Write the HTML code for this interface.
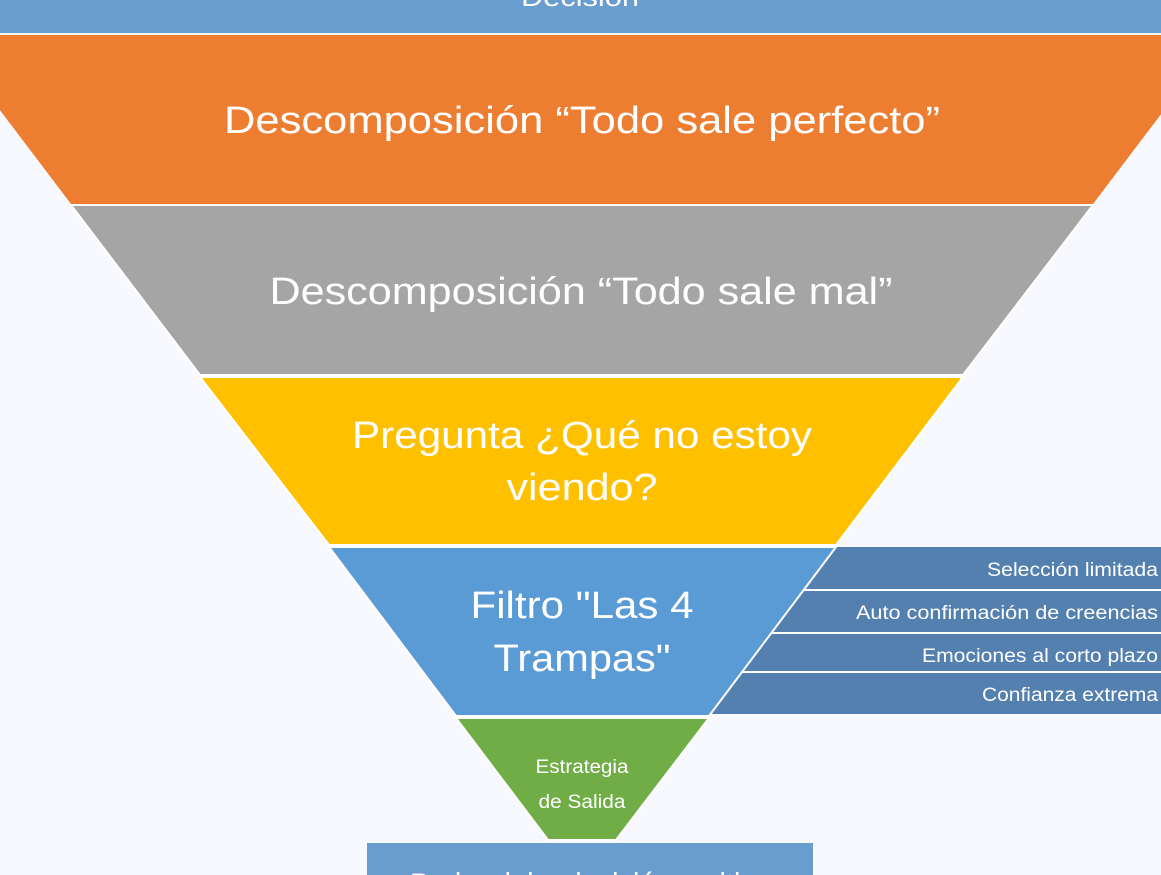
<!DOCTYPE html>
<html><head><meta charset="utf-8"><style>
html,body{margin:0;padding:0;background:#f8f9fe;}
svg{display:block;}
text{font-family:"Liberation Sans",sans-serif;fill:#fff;}
</style></head><body>
<svg width="1161" height="875" viewBox="0 0 1161 875" xmlns="http://www.w3.org/2000/svg">
<rect width="1161" height="875" fill="#f8f9fe"/>
<!-- top bar -->
<rect x="0" y="0" width="1161" height="33" fill="#699dd0"/>
<text x="580" y="6" font-size="26" text-anchor="middle" textLength="118" lengthAdjust="spacingAndGlyphs">Decisión</text>
<!-- side bars -->
<rect x="700" y="547" width="461" height="42" fill="#5480b0"/>
<rect x="700" y="591" width="461" height="41" fill="#5480b0"/>
<rect x="700" y="634" width="461" height="37" fill="#5480b0"/>
<rect x="700" y="673" width="461" height="41" fill="#5480b0"/>
<line x1="700" y1="590" x2="1161" y2="590" stroke="#fff" stroke-width="2"/>
<line x1="700" y1="633" x2="1161" y2="633" stroke="#fff" stroke-width="2"/>
<line x1="700" y1="672" x2="1161" y2="672" stroke="#fff" stroke-width="2"/>
<!-- funnel -->
<polygon points="-57,35 1221,35 1093,204 71,204" fill="#ed7e31"/>
<polygon points="71,205 1093,205 963,375 200,375" fill="#a5a5a5" stroke="#fff" stroke-width="2"/>
<polygon points="200,377 963,377 836,545 329,545" fill="#ffc000" stroke="#fff" stroke-width="2"/>
<polygon points="329,547 836,547 709,716 456,716" fill="#5b9bd5" stroke="#fff" stroke-width="2"/>
<polygon points="456,718 709,718 616,840 548,840" fill="#71ad47" stroke="#fff" stroke-width="2"/>
<!-- bottom box -->
<rect x="367" y="843" width="446" height="40" fill="#699dd0"/>
<text x="580" y="897" font-size="34" text-anchor="middle" textLength="340" lengthAdjust="spacingAndGlyphs">Poder del a decisión emitir</text>
<!-- labels -->
<text x="582" y="133" font-size="38" text-anchor="middle" textLength="716" lengthAdjust="spacingAndGlyphs">Descomposición “Todo sale perfecto”</text>
<text x="581" y="304" font-size="38" text-anchor="middle" textLength="623" lengthAdjust="spacingAndGlyphs">Descomposición “Todo sale mal”</text>
<text x="582" y="448" font-size="38" text-anchor="middle" textLength="460" lengthAdjust="spacingAndGlyphs">Pregunta ¿Qué no estoy</text>
<text x="582" y="500" font-size="38" text-anchor="middle" textLength="151" lengthAdjust="spacingAndGlyphs">viendo?</text>
<text x="582" y="618" font-size="38" text-anchor="middle" textLength="223" lengthAdjust="spacingAndGlyphs">Filtro "Las 4</text>
<text x="582" y="671" font-size="38" text-anchor="middle" textLength="177" lengthAdjust="spacingAndGlyphs">Trampas"</text>
<text x="582" y="773" font-size="19" text-anchor="middle" textLength="93" lengthAdjust="spacingAndGlyphs">Estrategia</text>
<text x="582" y="808" font-size="19" text-anchor="middle" textLength="87" lengthAdjust="spacingAndGlyphs">de Salida</text>
<text x="1158" y="576" font-size="19" text-anchor="end" textLength="171" lengthAdjust="spacingAndGlyphs">Selección limitada</text>
<text x="1158" y="619" font-size="19" text-anchor="end" textLength="302" lengthAdjust="spacingAndGlyphs">Auto confirmación de creencias</text>
<text x="1158" y="662" font-size="19" text-anchor="end" textLength="236" lengthAdjust="spacingAndGlyphs">Emociones al corto plazo</text>
<text x="1158" y="701" font-size="19" text-anchor="end" textLength="176" lengthAdjust="spacingAndGlyphs">Confianza extrema</text>
</svg>
</body></html>
